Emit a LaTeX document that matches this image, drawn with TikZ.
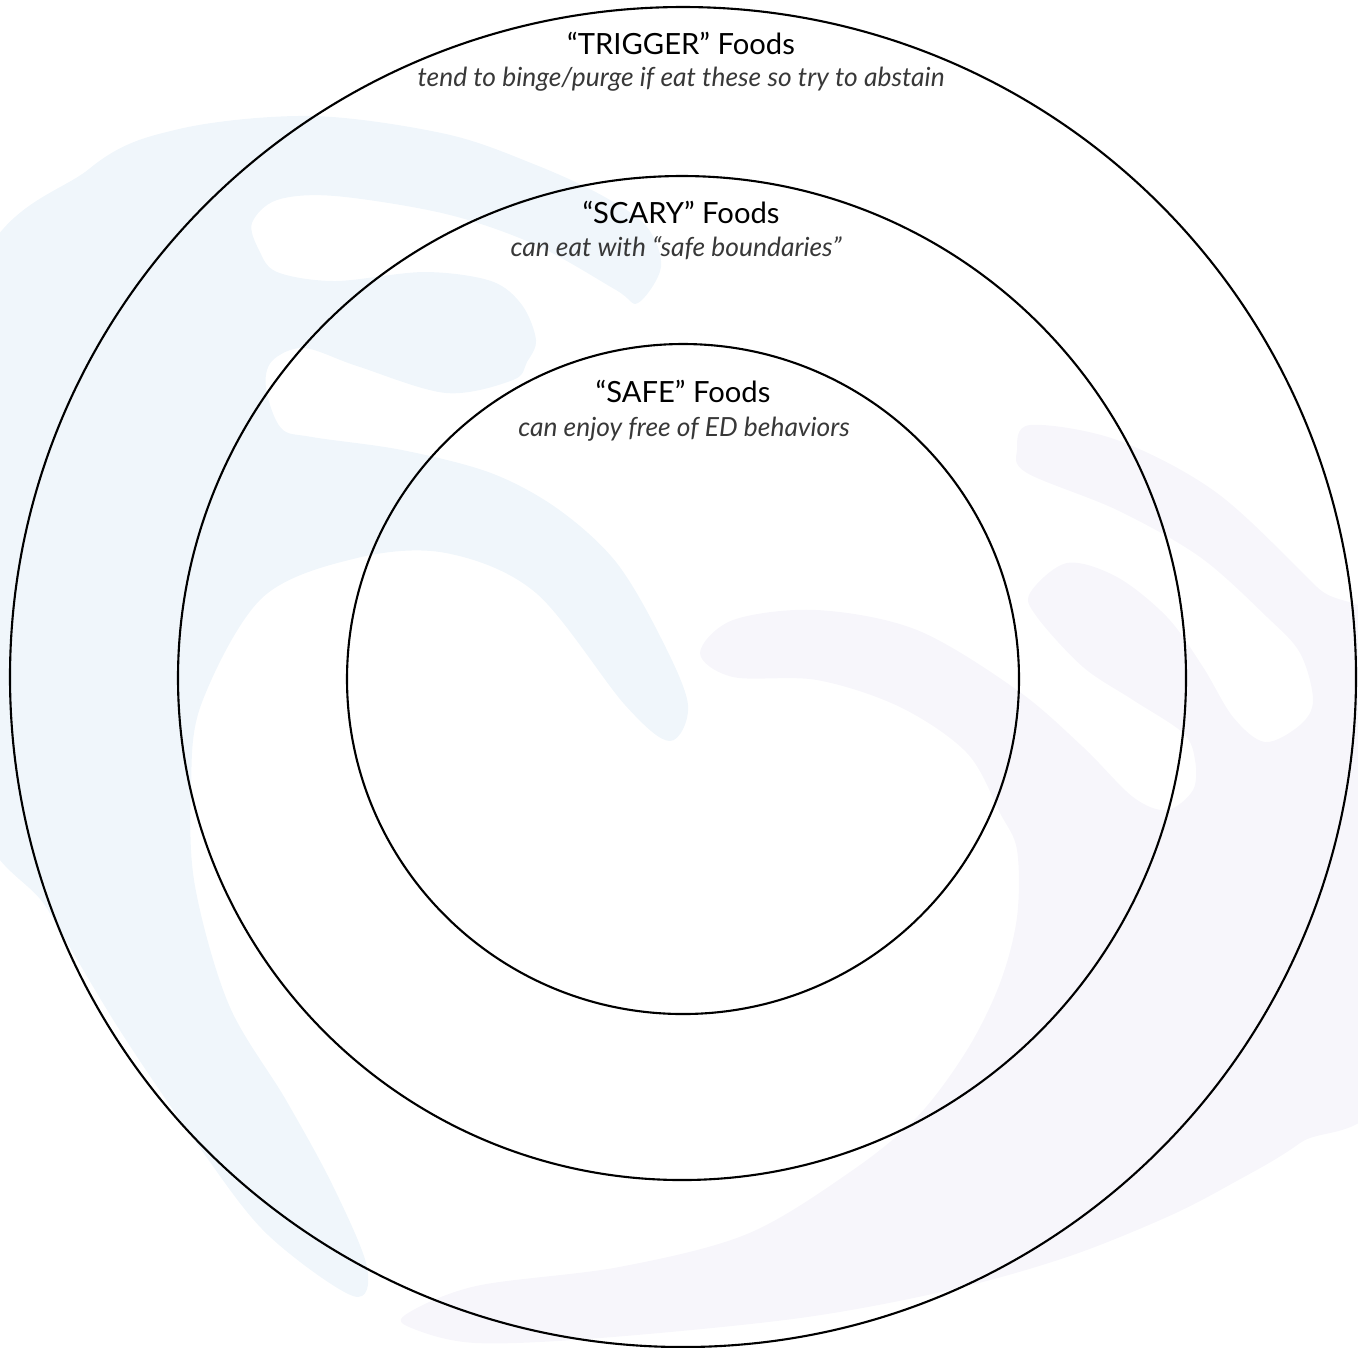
\documentclass[tikz,border=0pt]{standalone}
\usepackage{fontspec}
\setmainfont{Lato}
\definecolor{swirlblue}{RGB}{240,246,251}
\definecolor{swirllilac}{RGB}{247,246,251}
\usetikzlibrary{positioning}

\begin{document}
\begin{tikzpicture}[x=0.01cm,y=-0.01cm,
	ring/.style={draw=black,line width=0.6pt},
	head/.style={anchor=base,inner sep=0pt,font=\fontsize{8.3}{9}\selectfont},
	note/.style={anchor=base,inner sep=0pt,font=\fontsize{7.5}{9}\selectfont\itshape,text=black!78}]
	\useasboundingbox (0,0) rectangle (1358,1347);
	% faint swirl behind the rings
	\begin{scope}
		\clip (0,0) rectangle (1358,1347);
		\fill[swirlblue] plot[smooth cycle,tension=0.55] coordinates {(-30,300) (89,169) (179,129) (312,116) (446,134) (536,165) (603,196) (647,227) (661,267) (638,303) (616,290) (536,245) (446,214) (335,196) (277,200) (252,223) (259,250) (277,272) (335,281) (424,272) (491,281) (522,305) (536,340) (527,362) (513,380) (446,393) (357,366) (304,348) (272,361) (266,388) (281,428) (312,437) (402,450) (491,473) (558,509) (616,562) (661,638) (688,705) (670,741) (625,705) (536,593) (446,553) (357,558) (262,598) (201,705) (191,791) (195,886) (229,1005) (286,1100) (333,1186) (367,1267) (353,1296) (267,1234) (200,1148) (119,1029) (48,910) (-30,780)};
		\fill[swirllilac] plot[smooth cycle,tension=0.55] coordinates {(1017,450) (1030,425) (1117,440) (1217,493) (1317,587) (1390,660) (1390,1070) (1300,1143) (1233,1183) (1167,1217) (1067,1257) (950,1290) (800,1318) (600,1338) (476,1343) (414,1329) (405,1315) (476,1286) (619,1267) (747,1234) (850,1172) (917,1117) (967,1050) (1000,983) (1017,917) (1017,850) (1000,813) (967,753) (900,707) (817,680) (733,677) (700,653) (733,620) (817,610) (917,630) (1017,690) (1083,747) (1133,797) (1167,810) (1193,790) (1195,760) (1183,733) (1133,700) (1083,667) (1037,617) (1030,593) (1067,563) (1117,577) (1167,617) (1203,667) (1233,717) (1265,742) (1300,725) (1313,700) (1300,653) (1267,617) (1200,557) (1117,510) (1027,473)};
	\end{scope}
	% the three rings
	\draw[ring] (683,677) ellipse [x radius=673,y radius=670];
	\draw[ring] (682,678) ellipse [x radius=504,y radius=502];
	\draw[ring] (683,679) ellipse [x radius=336,y radius=335];
	\node[head] (trigger) at (681,54) {“TRIGGER” Foods};
	\node[note] (triggernote) at (681,86) {tend to binge/purge if eat these so try to abstain};
	\node[head] (scary) at (681,223) {“SCARY” Foods};
	\node[note] (scarynote) at (676,256) {can eat with “safe boundaries”};
	\node[head] (safe) at (683,402) {“SAFE” Foods};
	\node[note] (safenote) at (684,436) {can enjoy free of ED behaviors};
\end{tikzpicture}
\end{document}
